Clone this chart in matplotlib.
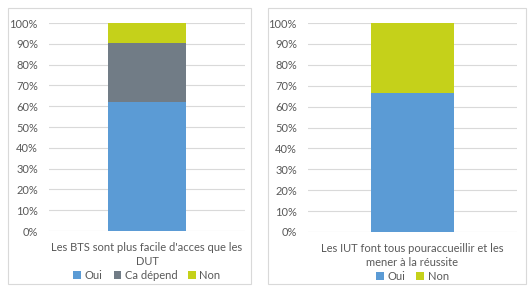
import matplotlib.pyplot as plt
from matplotlib.patches import Rectangle

plt.rcParams['font.family'] = ['Lato', 'DejaVu Sans']

# Graphique 1
cat1 = ["Les BTS sont plus facile d'acces que les\nDUT"]
oui1 = [62.0]
depend1 = [28.3]
non1 = [9.7]

# Graphique 2
cat2 = ["Les IUT font tous pouraccueillir et les\nmener à la réussite"]
oui2 = [66.7]
non2 = [33.3]

c_oui = '#5B9BD5'
c_dep = '#717C86'
c_non = '#C5D11A'
txt = '#595959'
fs = 8

fig = plt.figure(figsize=(5.3, 2.89), dpi=100)

# cadres des deux graphiques
for x0, x1 in [(8, 251), (268, 526)]:
    fig.add_artist(Rectangle((x0 / 530, 1 - 284 / 289), (x1 - x0) / 530, (284 - 8) / 289,
                             transform=fig.transFigure, fill=False, ec='#D9D9D9', lw=0.8))


def style(ax):
    ax.set_ylim(0, 100)
    ax.set_xlim(-0.5, 0.5)
    ax.set_yticks(range(0, 101, 10))
    ax.set_yticklabels([f'{v}%' for v in range(0, 101, 10)], fontsize=fs, color=txt)
    ax.yaxis.grid(True, color='#D9D9D9', lw=0.8)
    ax.set_axisbelow(True)
    for s in ax.spines.values():
        s.set_visible(False)
    ax.tick_params(length=0, pad=8)
    ax.tick_params(axis='x', labelsize=fs, labelcolor=txt, pad=8)


ax1 = fig.add_axes([49 / 530, 58 / 289, 196 / 530, 208 / 289])
ax1.bar(cat1, oui1, width=0.4, color=c_oui, label='Oui')
ax1.bar(cat1, depend1, width=0.4, bottom=oui1, color=c_dep, label='Ca dépend')
ax1.bar(cat1, non1, width=0.4, bottom=[a + b for a, b in zip(oui1, depend1)], color=c_non, label='Non')
style(ax1)
ax1.set_xticks([0])
ax1.set_xticklabels(cat1, linespacing=1.3)
ax1.legend(loc='center', bbox_to_anchor=(0.5, -0.212), ncol=3, frameon=False,
           fontsize=fs, labelcolor=txt, handlelength=0.7, handleheight=0.7,
           handletextpad=0.3, columnspacing=1.0, borderpad=0)

ax2 = fig.add_axes([308 / 530, 57 / 289, 209 / 530, 209 / 289])
ax2.bar(cat2, oui2, width=0.4, color=c_oui, label='Oui')
ax2.bar(cat2, non2, width=0.4, bottom=oui2, color=c_non, label='Non')
style(ax2)
ax2.set_xticks([0])
ax2.set_xticklabels(cat2, linespacing=1.3)
ax2.legend(loc='center', bbox_to_anchor=(0.5, -0.212), ncol=2, frameon=False,
           fontsize=fs, labelcolor=txt, handlelength=0.7, handleheight=0.7,
           handletextpad=0.3, columnspacing=1.0, borderpad=0)

fig.savefig('out.png', dpi=100, facecolor='white')
